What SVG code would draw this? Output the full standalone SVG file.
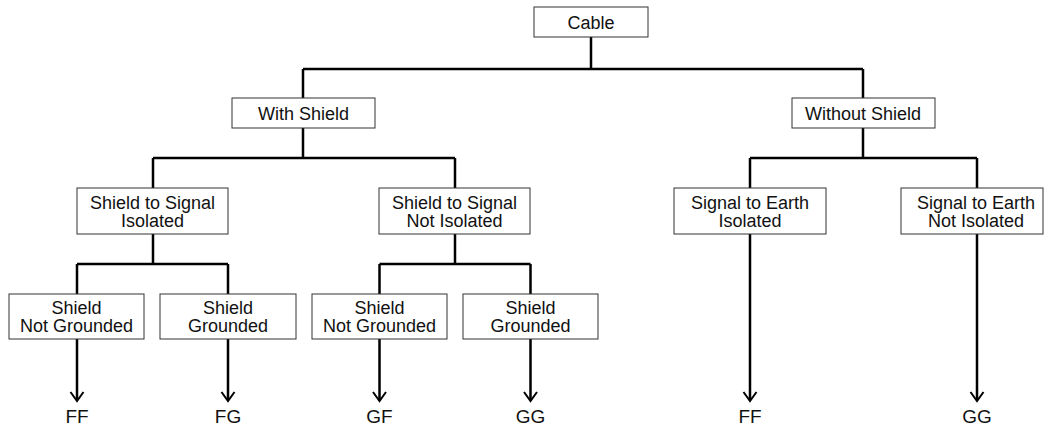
<svg xmlns="http://www.w3.org/2000/svg" width="1044" height="427" viewBox="0 0 1044 427">
<style>
.box{fill:#fff;stroke:#333;stroke-width:1}
.t{font-family:"Liberation Sans",Arial,sans-serif;font-size:18px;fill:#111;text-anchor:middle}
.r{font-size:19px}
.c{fill:none;stroke:#000;stroke-width:2.5}
.a{fill:none;stroke:#000;stroke-width:2}
</style>
<rect width="1044" height="427" fill="#fff"/>
<g id="connectors">
<path class="c" d="M591,37V69M303,69H863M303,69V98M863,69V98"/>
<path class="c" d="M303,128V158M153,158H455M153,158V188M455,158V188"/>
<path class="c" d="M863,128V158M750,158H977M750,158V188M977,158V188"/>
<path class="c" d="M153,234V264M77,264H228M77,264V294M228,264V294"/>
<path class="c" d="M455,234V264M379.5,264H530.5M379.5,264V294M530.5,264V294"/>
<path class="c" d="M77,339V400M228,339V400M379.5,339V400M530.5,339V400M750,234V400M977,234V400"/>
<path class="a" d="M70.5,392L77,401L83.5,392M221.5,392L228,401L234.5,392M373,392L379.5,401L386,392M524,392L530.5,401L537,392M743.5,392L750,401L756.5,392M970.5,392L977,401L983.5,392"/>
</g>
<g id="n-cable"><rect class="box" x="534" y="7" width="114" height="30"/><text class="t" x="591" y="28.5">Cable</text></g>
<g id="n-with"><rect class="box" x="232" y="98" width="143" height="30"/><text class="t" x="303.5" y="119.5">With Shield</text></g>
<g id="n-without"><rect class="box" x="792" y="98" width="143" height="30"/><text class="t" x="863" y="119.5">Without Shield</text></g>
<g id="n-ssi"><rect class="box" x="77" y="188" width="151" height="46"/><text class="t" x="152.5" y="208.5">Shield to Signal</text><text class="t" x="152.5" y="226.5">Isolated</text></g>
<g id="n-ssni"><rect class="box" x="379" y="188" width="151" height="46"/><text class="t" x="454.5" y="208.5">Shield to Signal</text><text class="t" x="454.5" y="226.5">Not Isolated</text></g>
<g id="n-sei"><rect class="box" x="674" y="188" width="152" height="46"/><text class="t" x="750" y="208.5">Signal to Earth</text><text class="t" x="750" y="226.5">Isolated</text></g>
<g id="n-seni"><rect class="box" x="901" y="188" width="142" height="46"/><text class="t" x="976" y="208.5">Signal to Earth</text><text class="t" x="976" y="226.5">Not Isolated</text></g>
<g id="n-sng1"><rect class="box" x="9" y="294" width="135" height="45"/><text class="t" x="76.5" y="314">Shield</text><text class="t" x="76.5" y="332">Not Grounded</text></g>
<g id="n-sg1"><rect class="box" x="160" y="294" width="136" height="45"/><text class="t" x="228" y="314">Shield</text><text class="t" x="228" y="332">Grounded</text></g>
<g id="n-sng2"><rect class="box" x="312" y="294" width="135" height="45"/><text class="t" x="379.5" y="314">Shield</text><text class="t" x="379.5" y="332">Not Grounded</text></g>
<g id="n-sg2"><rect class="box" x="463" y="294" width="135" height="45"/><text class="t" x="530.5" y="314">Shield</text><text class="t" x="530.5" y="332">Grounded</text></g>
<g id="r-ff1"><text class="t r" x="77" y="423">FF</text></g>
<g id="r-fg"><text class="t r" x="228" y="423">FG</text></g>
<g id="r-gf"><text class="t r" x="379.5" y="423">GF</text></g>
<g id="r-gg1"><text class="t r" x="530.5" y="423">GG</text></g>
<g id="r-ff2"><text class="t r" x="750" y="423">FF</text></g>
<g id="r-gg2"><text class="t r" x="977" y="423">GG</text></g>
</svg>
